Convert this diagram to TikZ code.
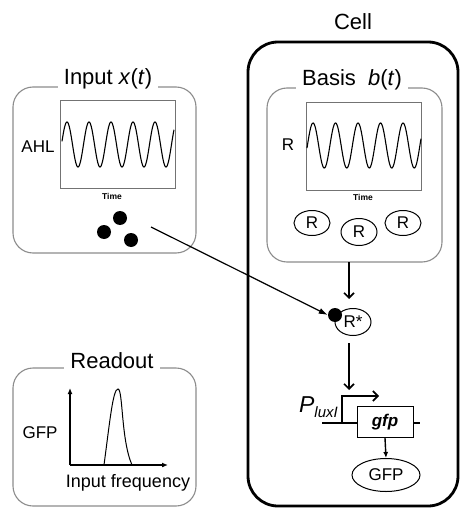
\documentclass[tikz,border=0pt]{standalone}
\usepackage{fontspec}
\setmainfont{Liberation Sans}
\usetikzlibrary{arrows.meta,shapes.geometric}
\begin{document}
\begin{tikzpicture}[x=1pt,y=-1pt,
  graybox/.style={draw=black!45,line width=1.1pt,rounded corners=20pt},
  boxtitle/.style={fill=white,inner xsep=6pt,inner ysep=1pt,font=\fontsize{22}{24}\selectfont},
  plotframe/.style={draw=black!55,line width=0.8pt},
  wave/.style={line width=1.1pt},
  lbl/.style={font=\fontsize{17}{19}\selectfont,inner sep=0pt},
  timelbl/.style={font=\fontsize{8.5}{10}\bfseries\selectfont,inner sep=0pt},
  mol/.style={draw,ellipse,line width=1pt,inner sep=0pt,font=\fontsize{17}{19}\selectfont},
  dot/.style={circle,fill=black,inner sep=0pt,minimum size=14pt},
  downarrow/.style={line width=1.8pt,-{Straight Barb[length=5pt,width=10pt,line width=1.6pt]}},
]
\useasboundingbox (0,0) rectangle (462,508);
% Cell
\draw[line width=2.8pt,rounded corners=30pt] (248,42) rectangle (458,506);
\node[font=\fontsize{22}{24}\selectfont] (celltitle) at (353,22) {Cell};
% Input box
\draw[graybox] (13,87) rectangle (196,253);
\node[boxtitle] (inputtitle) at (108,79) {Input \textit{x}(\textit{t})};
\draw[plotframe] (60,100) rectangle (175,188);
\draw[wave] plot[domain=62:174,samples=220] (\x,{144.5-22.5*sin(16.3636*(\x-61.5))});
\node[lbl] (ahl) at (38,147) {AHL};
\node[timelbl] (time1) at (112,196) {Time};
\node[dot] (d1) at (120,218) {};
\node[dot] (d2) at (104,232) {};
\node[dot] (d3) at (131,240) {};
\coordinate (astart) at (151,227);
% Basis box
\draw[graybox] (267,88) rectangle (442,262);
\node[boxtitle] (basistitle) at (352,80) {Basis\ \ \textit{b}(\textit{t})};
\draw[plotframe] (306,102) rectangle (421,190);
\draw[wave] plot[domain=307:421,samples=220] (\x,{145.5-22.5*sin(16*(\x-307.4))});
\node[lbl] (rlab) at (288,145) {R};
\node[timelbl] (time2) at (363,197) {Time};
\node[mol,minimum width=36pt,minimum height=25pt] (r1) at (312,223) {R};
\node[mol,minimum width=36pt,minimum height=27pt] (r2) at (359,232) {R};
\node[mol,minimum width=36pt,minimum height=25pt] (r3) at (403,223) {R};
% R*
\node[mol,minimum width=36pt,minimum height=27pt] (rstar) at (353,322) {R*};
\node[dot] (rdot) at (335,315) {};
\coordinate (basisbot) at (349,262);
\coordinate (rstartop) at (349,299);
\draw[downarrow] (basisbot) -- (rstartop);
\draw[line width=1.2pt,-{Latex[length=9pt,width=6pt]}] (astart) -- (rdot.west);
% promoter
\coordinate (rstarbot) at (349,343);
\coordinate (promtop) at (349,390);
\draw[downarrow] (rstarbot) -- (promtop);
\node[draw,line width=1pt,minimum width=56pt,minimum height=31pt,inner sep=0pt,font=\fontsize{17}{19}\bfseries\itshape\selectfont] (gfp) at (385,422) {gfp};
\coordinate (dnaL) at (322,423);
\coordinate (dnaR) at (420,423);
\coordinate (pbase) at (342,423);
\coordinate (ptop) at (342,396);
\coordinate (ptip) at (379,396);
\draw[line width=2.4pt] (dnaL) -- (gfp.west|-dnaL);
\draw[line width=1.4pt] (gfp.east|-dnaR) -- (dnaR);
\draw[line width=2.4pt,-{Straight Barb[length=5pt,width=10pt,line width=1.6pt]}] (pbase) -- (ptop) -- (ptip);
\node[inner sep=0pt,anchor=east] (plux) at (338,407) {\fontsize{23}{25}\itshape\selectfont P\raisebox{-5pt}{\fontsize{15}{17}\selectfont luxI}};
\node[mol,minimum width=68pt,minimum height=33pt] (gfpprot) at (386,475) {GFP};
\draw[line width=1.4pt,-{Latex[length=6pt,width=5pt]}] (gfp.south) -- (gfpprot.north);
% Readout
\draw[graybox] (13,368) rectangle (196,506);
\node[boxtitle] (readtitle) at (112,361) {Readout};
\coordinate (orig) at (70,465);
\coordinate (ytop) at (70,388);
\coordinate (xend) at (168,465);
\draw[line width=1.6pt,-{Latex[length=6pt,width=5pt]}] (orig) -- (ytop);
\draw[line width=1.6pt,-{Latex[length=6pt,width=5pt]}] (orig) -- (xend);
\draw[line width=1pt] (104,465) .. controls (110,420) and (113,389) .. (118,389) .. controls (123,389) and (121,440) .. (132,465);
\node[lbl] (gfplab) at (40,433) {GFP};
\node[font=\fontsize{18}{20}\selectfont,inner sep=0pt] (infreq) at (128,483) {Input frequency};
\end{tikzpicture}
\end{document}
